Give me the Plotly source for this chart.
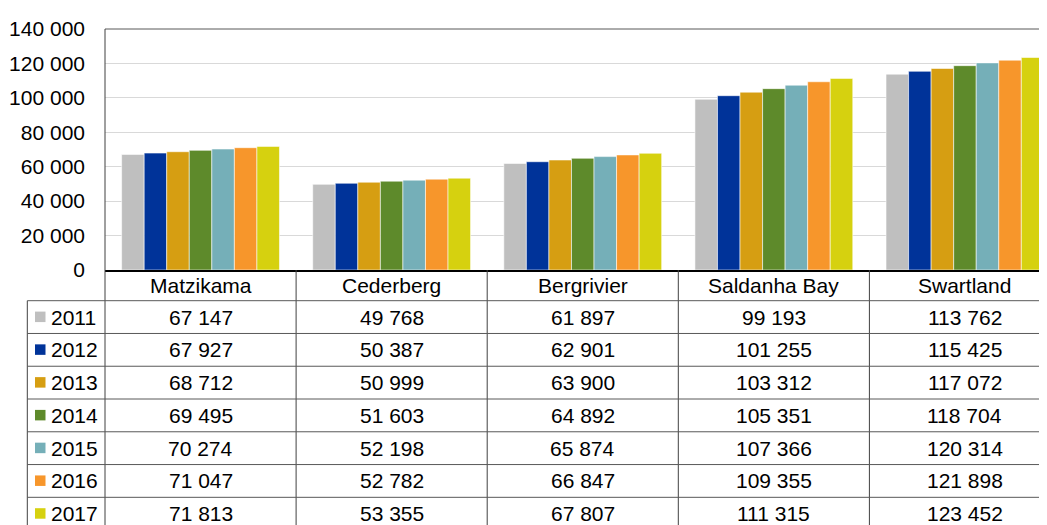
import plotly.graph_objects as go

categories = ["Matzikama", "Cederberg", "Bergrivier", "Saldanha Bay", "Swartland"]
years = ["2011", "2012", "2013", "2014", "2015", "2016", "2017"]
values_2011 = [67147, 49768, 61897, 99193, 113762]
values_2012 = [67927, 50387, 62901, 101255, 115425]
values_2013 = [68712, 50999, 63900, 103312, 117072]
values_2014 = [69495, 51603, 64892, 105351, 118704]
values_2015 = [70274, 52198, 65874, 107366, 120314]
values_2016 = [71047, 52782, 66847, 109355, 121898]
values_2017 = [71813, 53355, 67807, 111315, 123452]
series = [values_2011, values_2012, values_2013, values_2014, values_2015, values_2016, values_2017]
colors = ["#BFBFBF", "#003399", "#D69E12", "#5E8A2B", "#75AFB8", "#F7962B", "#D6D10F"]

# page body has an 8px margin; figure is sized to end at the window edge
OFF = 8
W, H = 1047 - OFF, 525 - OFF
FONT = "Liberation Sans, Arial, sans-serif"

def py(p):
    return 1 - (p - OFF) / H

def px(p):
    return (p - OFF) / W

fig = go.Figure()
for yr, vals, col in zip(years, series, colors):
    fig.add_trace(go.Bar(
        x=categories, y=vals, name=yr,
        marker=dict(color=col, line=dict(color="rgba(255,255,255,0.7)", width=0.8)),
        showlegend=False,
    ))

plot_left, plot_top, plot_bottom = 105, 29, 270
header_bottom = 300.7
row_h = 32.77
col_w = 191.1
x_right = (1047 - (plot_left + col_w / 2)) / col_w

shapes = []
annotations = []
shapes.append(dict(type="line", xref="paper", yref="paper", x0=px(plot_left), x1=1,
                   y0=py(plot_top), y1=py(plot_top), line=dict(color="#595959", width=1)))
shapes.append(dict(type="line", xref="paper", yref="paper", x0=px(plot_left), x1=px(plot_left),
                   y0=py(plot_top), y1=py(540), line=dict(color="#404040", width=1)))
for i in range(1, len(categories) + 1):
    shapes.append(dict(type="line", xref="x", yref="paper", x0=i - 0.5, x1=i - 0.5,
                       y0=py(plot_bottom), y1=py(540), line=dict(color="#404040", width=1)))
shapes.append(dict(type="line", xref="paper", yref="paper", x0=px(27.3), x1=px(27.3),
                   y0=py(header_bottom), y1=py(540), line=dict(color="#404040", width=1)))
for r in range(len(years)):
    yline = header_bottom + r * row_h
    shapes.append(dict(type="line", xref="paper", yref="paper", x0=px(27.3), x1=1,
                       y0=py(yline), y1=py(yline), line=dict(color="#595959", width=1)))

for i, c in enumerate(categories):
    annotations.append(dict(x=i, y=py((plot_bottom + header_bottom) / 2), xref="x", yref="paper",
                            text=c, showarrow=False, font=dict(size=21, color="#000000", family=FONT),
                            xanchor="center", yanchor="middle"))
for r, (yr, vals, col) in enumerate(zip(years, series, colors)):
    yc = header_bottom + (r + 0.5) * row_h
    shapes.append(dict(type="rect", xref="paper", yref="paper", x0=px(35), x1=px(45.5),
                       y0=py(yc - 5.5), y1=py(yc + 5), fillcolor=col, line=dict(width=0)))
    annotations.append(dict(x=px(49), y=py(yc), xref="paper", yref="paper", text=yr,
                            showarrow=False, xanchor="left", yanchor="middle",
                            font=dict(size=21, color="#000000", family=FONT)))
    for i, v in enumerate(vals):
        annotations.append(dict(x=i, y=py(yc), xref="x", yref="paper",
                                text=f"{v:,}".replace(",", " "), showarrow=False,
                                xanchor="center", yanchor="middle",
                                font=dict(size=21, color="#000000", family=FONT)))

fig.update_layout(
    width=W, height=H,
    margin=dict(l=0, r=0, t=0, b=0, pad=0, autoexpand=False),
    paper_bgcolor="white", plot_bgcolor="white",
    barmode="group", bargap=0.174, bargroupgap=0,
    separators=". ",
    font=dict(family=FONT, color="#000000"),
    xaxis=dict(domain=[px(plot_left), 1], range=[-0.5, x_right], showticklabels=False,
               showline=True, linecolor="#000000", linewidth=1.5, ticks="", showgrid=False,
               zeroline=False, automargin=False),
    yaxis=dict(domain=[py(plot_bottom), py(plot_top)], range=[0, 140000], dtick=20000,
               tickformat=",d", showgrid=True, gridcolor="#D9D9D9", gridwidth=1,
               zeroline=False, showline=False, ticks="", ticklabelstandoff=19, automargin=False,
               tickfont=dict(size=21, color="#000000", family=FONT)),
    shapes=shapes,
    annotations=annotations,
)

fig.write_html("out.html")
